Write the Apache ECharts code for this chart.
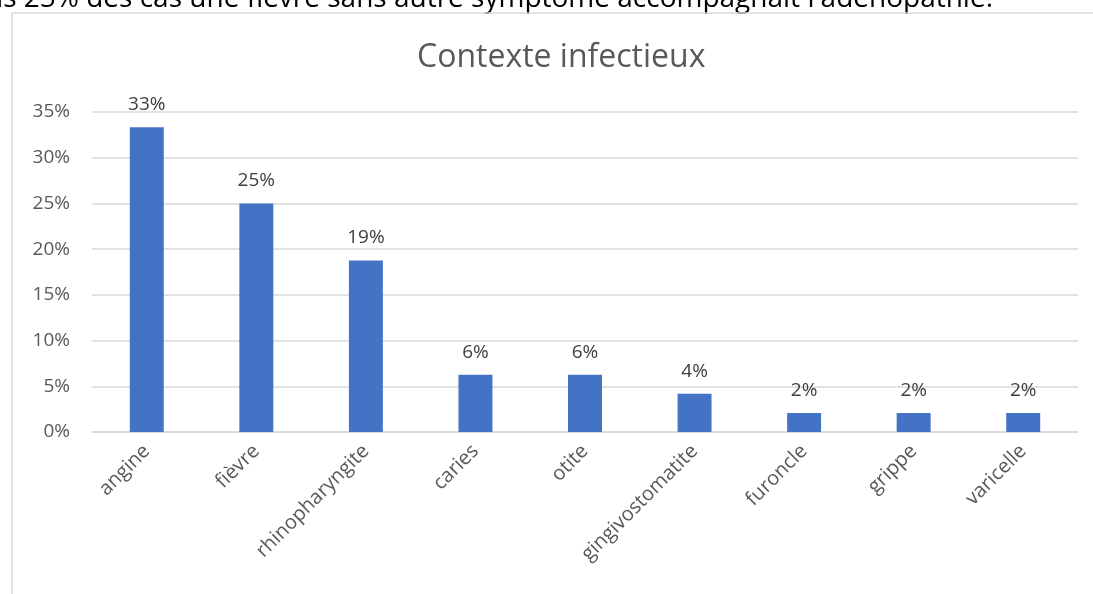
<!DOCTYPE html>
<html>
<head>
<meta charset="utf-8">
<script src="https://cdn.jsdelivr.net/npm/echarts@6/dist/echarts.min.js"></script>
<style>
  html, body { margin: 0; padding: 0; background: #fff; }
  #chart { width: 1093px; height: 594px; }
</style>
</head>
<body>
<div id="chart"></div>
<script>
// infections (share of cases, 48 patients)
const categories = ['angine', 'fièvre', 'rhinopharyngite', 'caries', 'otite', 'gingivostomatite', 'furoncle', 'grippe', 'varicelle']
const shares = [33.33, 25, 18.75, 6.25, 6.25, 4.17, 2.08, 2.08, 2.08]
const yTicks = [0, 5, 10, 15, 20, 25, 30, 35]

const font = '"Open Sans", "Noto Sans", sans-serif'
const chart = echarts.init(document.getElementById('chart'))

const option = {
  animation: false,
  graphic: [
    {
      type: 'text',
      right: 100,
      top: -15,
      style: {
        text: "Dans 25% des cas une fièvre sans autre symptôme accompagnait l'adénopathie.",
        font: '28px ' + font,
        fill: '#000'
      }
    },
    {
      type: 'rect',
      shape: { x: 12, y: 13, width: 1200, height: 700 },
      style: { fill: 'none', stroke: '#d9d9d9', lineWidth: 1.5 }
    }
  ],
  title: {
    text: 'Contexte infectieux',
    left: 412,
    top: 37,
    textStyle: { fontFamily: font, fontSize: 32, fontWeight: 'normal', color: '#595959' }
  },
  grid: { left: 92, right: 15, top: 112, bottom: 162, containLabel: false },
  xAxis: {
    type: 'category',
    data: categories,
    axisTick: { show: false },
    axisLine: { lineStyle: { color: '#d9d9d9', width: 1.5 } },
    axisLabel: { rotate: 45, margin: 16, color: '#595959', fontFamily: font, fontSize: 20 }
  },
  yAxis: {
    type: 'value',
    min: yTicks[0],
    max: yTicks[yTicks.length - 1],
    interval: 5,
    axisLine: { show: false },
    axisTick: { show: false },
    splitLine: { lineStyle: { color: '#d9d9d9', width: 1.5 } },
    axisLabel: { formatter: '{value}%', margin: 22, color: '#595959', fontFamily: font, fontSize: 19 }
  },
  series: [
    {
      type: 'bar',
      data: shares,
      barWidth: '31%',
      itemStyle: { color: '#4472c4' },
      label: {
        show: true,
        position: 'top',
        distance: 13,
        formatter: (p) => Math.round(p.value) + '%',
        color: '#404040',
        fontFamily: font,
        fontSize: 19
      }
    }
  ]
}

chart.setOption(option)
</script>
</body>
</html>
